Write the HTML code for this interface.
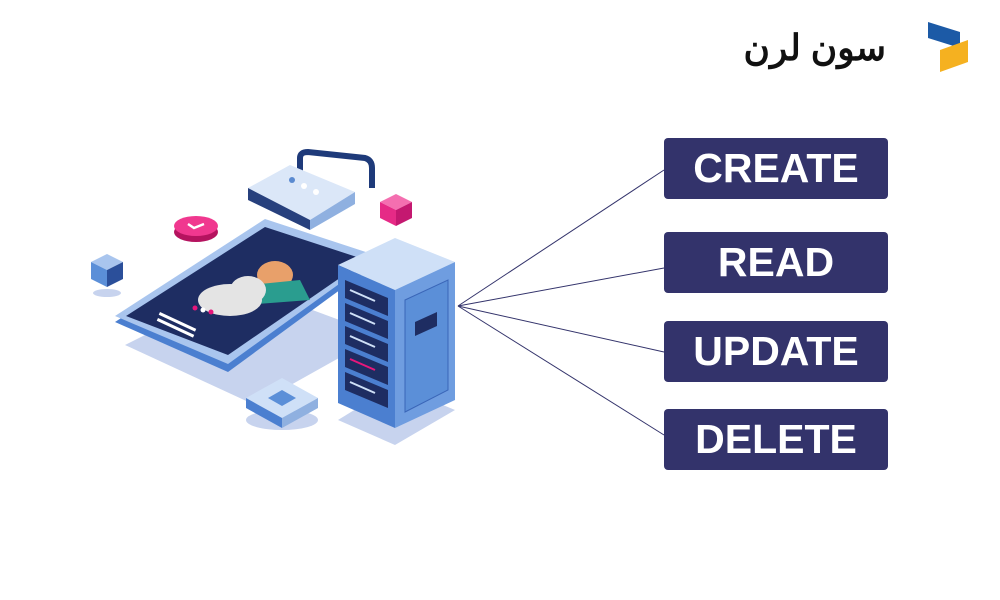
<!DOCTYPE html>
<html><head><meta charset="utf-8"><style>
body{margin:0;background:#fff;width:1000px;height:600px;overflow:hidden;position:relative;font-family:"Liberation Sans",sans-serif}
.b{position:absolute;left:664px;width:224px;height:61px;background:#33336b;border-radius:4px;color:#fff;font-weight:bold;font-size:41px;line-height:61px;text-align:center}
</style></head><body>
<svg width="1000" height="600" style="position:absolute;left:0;top:0">
<g stroke="#33336b" stroke-width="1" fill="none">
<line x1="458" y1="306" x2="664" y2="170"/>
<line x1="458" y1="306" x2="664" y2="268"/>
<line x1="458" y1="306" x2="664" y2="352"/>
<line x1="458" y1="306" x2="664" y2="435"/>
</g>
<!-- logo -->
<text x="886" y="60" font-family="'Liberation Sans','Noto Sans CJK SC',sans-serif" font-size="36" font-weight="bold" text-anchor="end" fill="#111">سون لرن</text>
<polygon points="928,22 960,32 960,48 928,38" fill="#1c5aa6"/>
<polygon points="940,50 968,40 968,62 940,72" fill="#f5b120"/>
<!-- phone shadow -->
<polygon points="125,345 245,285 380,335 255,405" fill="#c7d3ee"/>
<!-- phone body -->
<polygon points="115,322 265,225 378,262 228,372" fill="#4b7fd0"/>
<polygon points="115,316 265,219 378,256 228,364" fill="#a9c5ee"/>
<polygon points="126,316 265,227 366,260 228,355" fill="#1e2d62"/>
<!-- cloud + person -->
<ellipse cx="275" cy="275" rx="18" ry="14" fill="#e8a06a"/>
<polygon points="250,285 300,280 310,300 245,305" fill="#2a9d8f"/>
<ellipse cx="230" cy="300" rx="32" ry="16" fill="#e4e4e4"/>
<ellipse cx="248" cy="290" rx="18" ry="14" fill="#e4e4e4"/>
<g fill="#fff"><rect x="160" y="312" width="40" height="3" transform="rotate(25 160 312)"/><rect x="158" y="318" width="40" height="3" transform="rotate(25 158 318)"/></g>
<circle cx="195" cy="308" r="2.5" fill="#e6177b"/><circle cx="203" cy="310" r="2.5" fill="#fff"/><circle cx="211" cy="312" r="2.5" fill="#e6177b"/>
<!-- lock -->
<path d="M300,188 L300,158 Q300,152 308,152 L365,158 Q372,160 372,168 L372,188" stroke="#1e3a7a" stroke-width="6" fill="none"/>
<polygon points="248,188 290,165 355,192 310,220" fill="#dbe7f8"/>
<polygon points="248,188 310,220 310,230 248,200" fill="#27407d"/>
<polygon points="310,220 355,192 355,204 310,230" fill="#8fb0e0"/>
<circle cx="292" cy="180" r="3" fill="#5a8ad0"/><circle cx="304" cy="186" r="3" fill="#fff"/><circle cx="316" cy="192" r="3" fill="#fff"/>
<!-- pink check -->
<ellipse cx="196" cy="232" rx="22" ry="10" fill="#b5135f"/>
<ellipse cx="196" cy="226" rx="22" ry="10" fill="#f0388f"/>
<path d="M188,224 l6,4 l10,-4" stroke="#fff" stroke-width="2.5" fill="none"/>
<!-- pink cube -->
<polygon points="380,202 396,194 412,202 396,210" fill="#f46fb0"/>
<polygon points="380,202 396,210 396,226 380,218" fill="#e62a86"/>
<polygon points="396,210 412,202 412,218 396,226" fill="#c41870"/>
<!-- blue cube -->
<polygon points="91,262 107,254 123,262 107,270" fill="#a9c5ee"/>
<polygon points="91,262 107,270 107,287 91,279" fill="#5b8fd8"/>
<polygon points="107,270 123,262 123,279 107,287" fill="#2b4f9a"/>
<ellipse cx="107" cy="293" rx="14" ry="4" fill="#c7d3ee"/>
<!-- router -->
<ellipse cx="282" cy="420" rx="36" ry="10" fill="#c7d3ee"/>
<polygon points="246,398 282,378 318,398 282,418" fill="#cfe0f7"/>
<polygon points="246,398 282,418 282,428 246,408" fill="#4b7fd0"/>
<polygon points="282,418 318,398 318,408 282,428" fill="#8fb0e0"/>
<polygon points="268,398 282,390 296,398 282,406" fill="#5b8fd8"/>
<!-- server shadow -->
<polygon points="338,420 395,445 455,410 395,385" fill="#c7d3ee"/>
<!-- server -->
<polygon points="338,265 395,238 455,262 395,290" fill="#cfe0f7"/>
<polygon points="338,265 395,290 395,428 338,403" fill="#4b7fd0"/>
<polygon points="395,290 455,262 455,400 395,428" fill="#6f9de0"/>
<polygon points="405,300 448,280 448,390 405,412" fill="#5b8fd8" stroke="#3a66b8"/>
<g fill="#1e2d62">
<polygon points="345,280 388,298 388,316 345,298"/>
<polygon points="345,303 388,321 388,339 345,321"/>
<polygon points="345,326 388,344 388,362 345,344"/>
<polygon points="345,349 388,367 388,385 345,367"/>
<polygon points="345,372 388,390 388,408 345,390"/>
</g>
<g stroke="#cfe0f7" stroke-width="2"><line x1="350" y1="290" x2="375" y2="301"/><line x1="350" y1="313" x2="375" y2="324"/><line x1="350" y1="336" x2="375" y2="347"/><line x1="350" y1="359" x2="375" y2="370" stroke="#e6177b"/><line x1="350" y1="382" x2="375" y2="393"/></g>
<polygon points="415,322 437,312 437,326 415,336" fill="#1e2d62"/>
</svg>
<div class="b" style="top:138px">CREATE</div>
<div class="b" style="top:232px">READ</div>
<div class="b" style="top:321px">UPDATE</div>
<div class="b" style="top:409px">DELETE</div>
</body></html>
